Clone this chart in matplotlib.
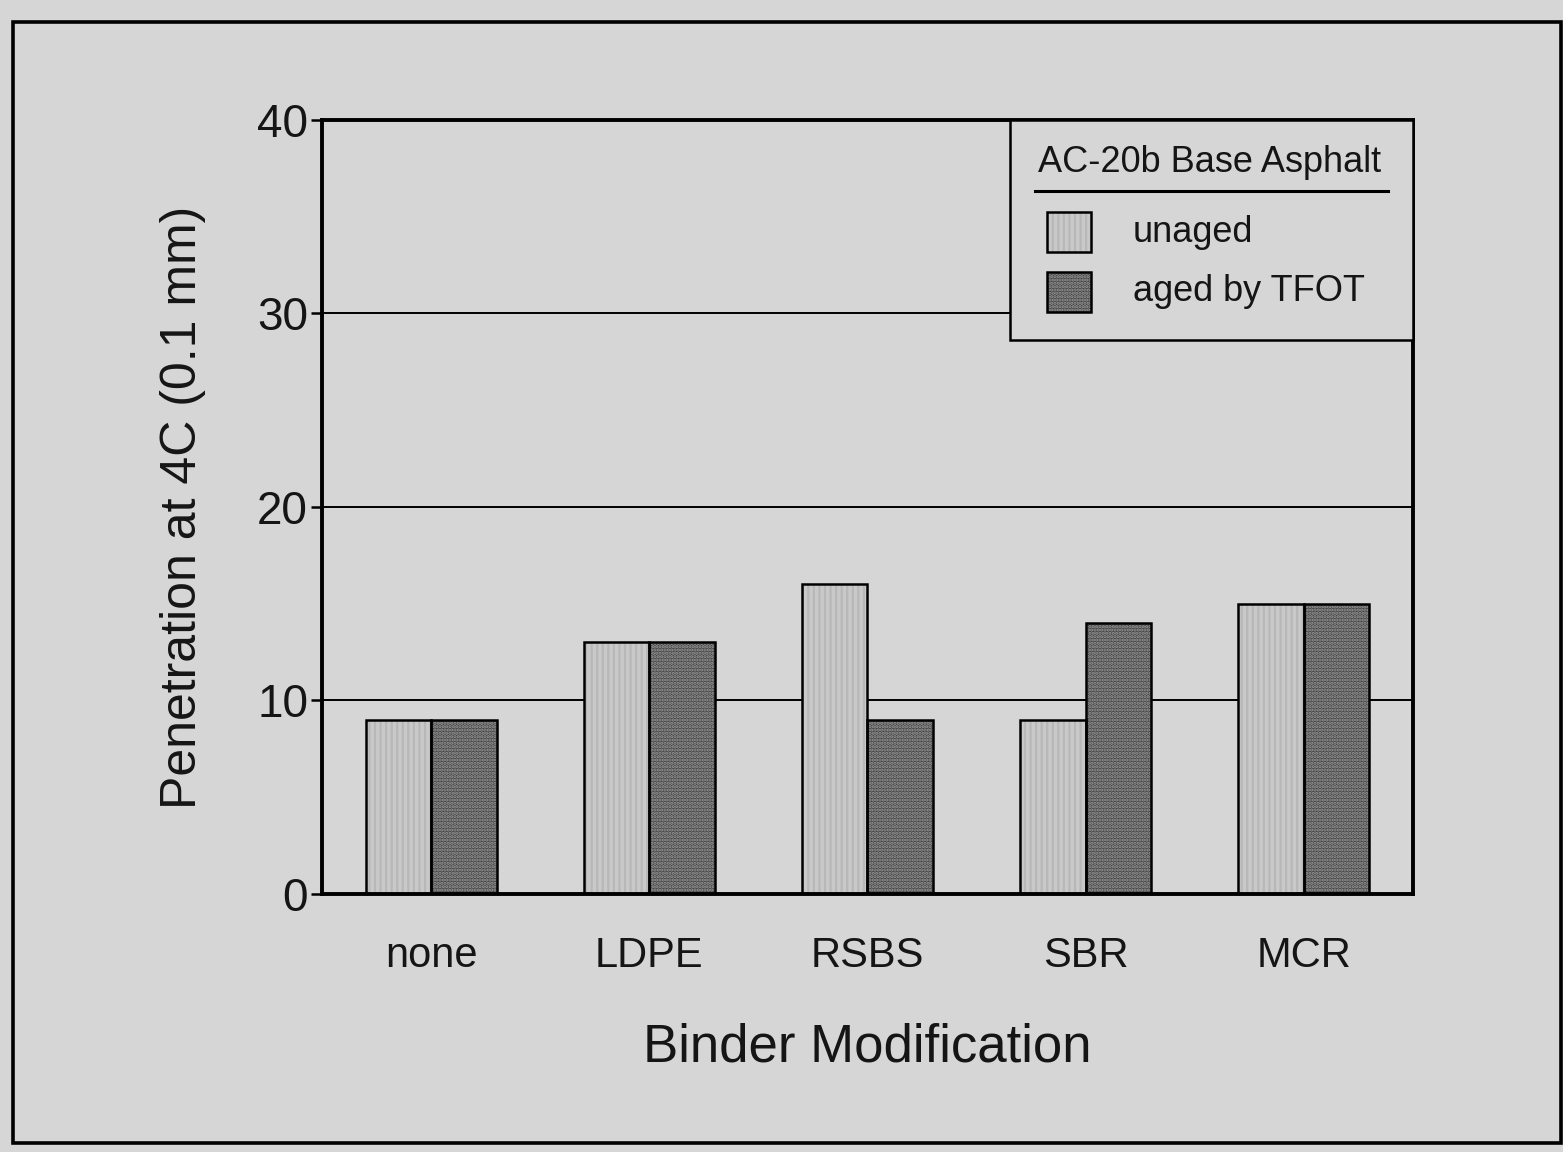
import matplotlib
matplotlib.use('Agg')
import matplotlib.pyplot as plt
import numpy as np
from matplotlib.patches import Rectangle
from matplotlib.lines import Line2D

categories = ['none', 'LDPE', 'RSBS', 'SBR', 'MCR']
unaged = [9.0, 13.0, 16.0, 9.0, 15.0]
aged = [9.0, 13.0, 9.0, 14.0, 15.0]
series_names = ['unaged', 'aged by TFOT']
yticks = [0, 10, 20, 30, 40]
legend_title = 'AC-20b Base Asphalt'
xlabel = 'Binder Modification'
ylabel = 'Penetration at 4C (0.1 mm)'

plt.rcParams['font.family'] = ['Liberation Sans', 'DejaVu Sans']
plt.rcParams['hatch.linewidth'] = 1.6

bg = '#d6d6d6'
txt = '#151515'
styles = [
    dict(fc='#c9c9c9', hc='#b8b8b8', hatch='|||'),
    dict(fc='#444444', hc='#9a9a9a', hatch='.....'),
]

fig = plt.figure(figsize=(15.63, 11.52), dpi=100)
fig.patch.set_facecolor(bg)
ax = fig.add_axes([0.206, 0.224, 0.698, 0.672])
ax.set_facecolor(bg)

x = np.arange(len(categories))
w = 0.30
for vals, off, st in [(unaged, -w / 2, styles[0]), (aged, w / 2, styles[1])]:
    ax.bar(x + off, vals, w, color=st['fc'], edgecolor=st['hc'], hatch=st['hatch'],
           linewidth=0, zorder=2)
    ax.bar(x + off, vals, w, fill=False, edgecolor='black', linewidth=1.8, zorder=3)

ax.set_xlim(-0.5, len(categories) - 0.5)
ax.set_ylim(yticks[0], yticks[-1])
ax.set_yticks(yticks)
ax.set_xticks(x)
ax.set_xticklabels(categories)
ax.yaxis.grid(True, color='black', linewidth=1.4)
ax.set_axisbelow(True)
for s in ax.spines.values():
    s.set_linewidth(2.8)
ax.tick_params(axis='y', direction='out', length=8, width=1.8, labelsize=33, pad=2,
               labelcolor=txt)
ax.tick_params(axis='x', length=0, labelsize=30, pad=30, labelcolor=txt)
ax.set_xlabel(xlabel, fontsize=38, labelpad=34, color=txt)
ax.set_ylabel(ylabel, fontsize=36, labelpad=37, color=txt)

# legend box
ax.add_patch(Rectangle((0.631, 0.715), 0.369, 0.285, transform=ax.transAxes,
                       facecolor=bg, edgecolor='black', linewidth=1.8, zorder=5, clip_on=False))
ax.text(0.814, 0.945, legend_title, transform=ax.transAxes, ha='center', va='center',
        fontsize=26, zorder=6, color=txt)
ax.add_line(Line2D([0.654, 0.977], [0.908, 0.908], transform=ax.transAxes,
                   color='black', linewidth=2.2, zorder=6))
for i, (name, st) in enumerate(zip(series_names, styles)):
    y0 = 0.829 - i * 0.077
    ax.add_patch(Rectangle((0.665, y0), 0.040, 0.052, transform=ax.transAxes,
                           facecolor=st['fc'], edgecolor=st['hc'], hatch=st['hatch'],
                           linewidth=0, zorder=6))
    ax.add_patch(Rectangle((0.665, y0), 0.040, 0.052, transform=ax.transAxes,
                           fill=False, edgecolor='black', linewidth=1.8, zorder=7))
    ax.text(0.743, y0 + 0.026, name, transform=ax.transAxes, ha='left', va='center',
            fontsize=26, zorder=6, color=txt)

# outer frame
fig.add_artist(Rectangle((13 / 1563, 1 - 1143 / 1152), (1561 - 13) / 1563, (1143 - 22) / 1152,
                         transform=fig.transFigure, fill=False, edgecolor='black', linewidth=2.6))

fig.savefig('out.png', dpi=100, facecolor=bg)
